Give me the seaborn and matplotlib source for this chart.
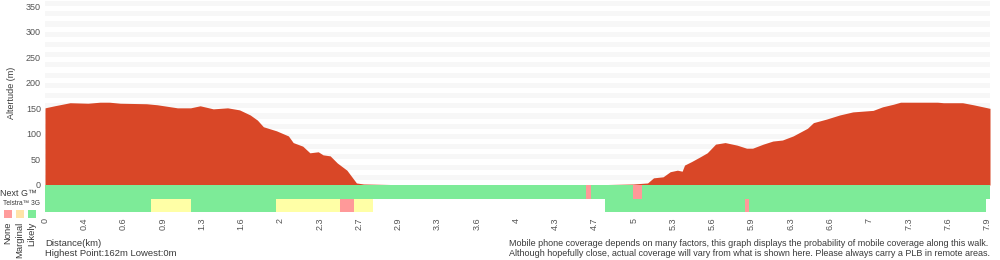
import numpy as np
import pandas as pd
import matplotlib
matplotlib.use("Agg")
import matplotlib.pyplot as plt
import seaborn as sns

# ---------------- data ----------------
distance_km = [0.00, 0.08, 0.21, 0.36, 0.46, 0.54, 0.63, 0.85, 0.94, 1.11, 1.22, 1.30,
               1.41, 1.53, 1.63, 1.72, 1.78, 1.83, 1.94, 2.04, 2.08, 2.16, 2.22, 2.29,
               2.33, 2.39, 2.45, 2.53, 2.61, 2.67, 2.89, 2.93, 3.50, 4.20, 4.65, 4.72,
               4.93, 5.05, 5.10, 5.18, 5.24, 5.30, 5.34, 5.36, 5.42, 5.49, 5.55, 5.62,
               5.70, 5.80, 5.88, 5.93, 6.02, 6.10, 6.18, 6.27, 6.39, 6.44, 6.55, 6.66,
               6.77, 6.94, 7.02, 7.11, 7.17, 7.36, 7.42, 7.48, 7.53, 7.69, 7.78, 7.92]
altitude_m = [151, 155, 161, 160, 162, 162, 160, 159, 157, 151, 151, 155,
              149, 151, 147, 137, 127, 114, 106, 96, 83, 76, 63, 65,
              59, 57, 43, 29, 4, 2, 1, 0, 0, 0, 0, 1,
              2, 4, 14, 16, 26, 29, 27, 39, 46, 55, 63, 80,
              83, 78, 72, 72, 80, 86, 88, 96, 111, 122, 129, 137,
              143, 146, 153, 158, 162, 162, 162, 162, 161, 161, 157, 150]

nextg_start = [0.00, 4.53, 4.58, 4.93, 5.00]
nextg_end = [4.53, 4.58, 4.93, 5.00, 7.92]
nextg_level = ["Likely", "None", "Likely", "None", "Likely"]

g3_start = [0.00, 0.89, 1.22, 1.94, 2.47, 2.59, 4.69, 5.87, 5.90]
g3_end = [0.89, 1.22, 1.94, 2.47, 2.59, 2.75, 5.87, 5.90, 7.89]
g3_level = ["Likely", "Marginal", "Likely", "Marginal", "None", "Marginal",
            "Likely", "None", "Likely"]

tick_labels = ["0", "0.4", "0.6", "0.9", "1.3", "1.6", "2", "2.3", "2.7", "2.9", "3.3",
               "3.6", "4", "4.3", "4.7", "5", "5.3", "5.6", "5.9", "6.3", "6.6", "7",
               "7.3", "7.6", "7.9"]
ytick_values = [0, 50, 100, 150, 200, 250, 300, 350]

# ---------------- style ----------------
sns.set_theme(style="white")
plt.rcParams["font.family"] = ["Liberation Sans", "DejaVu Sans"]
TXT = "#3a3a3a"
FILL = "#d94727"
LEVEL_COLORS = {"None": "#ff9999", "Marginal": "#ffffa6", "Likely": "#7deb98"}
LEGEND_COLORS = {"None": "#ff9c9c", "Marginal": "#ffe3a8", "Likely": "#7deb98"}

fig = plt.figure(figsize=(10, 2.6), dpi=100)
W, H = 1000, 260
x0, x1 = 45, 990
XMAX = 7.92

def box(left, top, right, bottom):
    return [left / W, 1 - bottom / H, (right - left) / W, (bottom - top) / H]

# ---------------- altitude axes ----------------
ax = fig.add_axes(box(x0, 0, x1, 185))
for k in range(18):
    ax.axhspan(10 + 20 * k, 20 + 20 * k, color="#f7f7f7", lw=0, zorder=0)
prof = pd.DataFrame({"d": distance_km, "alt": altitude_m})
sns.lineplot(data=prof, x="d", y="alt", ax=ax, color=FILL, lw=0, zorder=3)
ax.fill_between(prof["d"], 0, prof["alt"], color=FILL, lw=0, zorder=2)
ax.set_xlim(0, XMAX)
ax.set_ylim(0, 362)
ax.set_xticks([])
ax.set_yticks(ytick_values)
ax.set_yticklabels([str(v) for v in ytick_values])
ax.tick_params(axis="y", length=0, pad=3, labelsize=6.5, labelcolor="#555555")
ax.set_xlabel("")
ax.set_ylabel("Altertude (m)", fontsize=6.5, color=TXT, labelpad=7)
for s in ax.spines.values():
    s.set_visible(False)

# ---------------- coverage axes ----------------
cax = fig.add_axes(box(x0, 185, x1, 212))
for row, (st, en, lv) in enumerate([(nextg_start, nextg_end, nextg_level),
                                    (g3_start, g3_end, g3_level)]):
    for a, b, l in zip(st, en, lv):
        cax.barh(row, b - a, left=a, height=1.0, color=LEVEL_COLORS[l], lw=0)
cax.set_xlim(0, XMAX)
cax.set_ylim(1.5, -0.5)
cax.set_yticks([])
step = 7.896 / (len(tick_labels) - 1)
cax.set_xticks(np.arange(len(tick_labels)) * step)
cax.set_xticklabels(tick_labels, rotation=90)
cax.tick_params(axis="x", length=0, pad=4, labelsize=6.5, labelcolor="#555555")
for s in cax.spines.values():
    s.set_visible(False)
cax.set_facecolor("white")

# ---------------- left legend ----------------
fig.text(0 / W, 1 - 193 / H, "Next G\u2122", fontsize=6.4, color=TXT, ha="left", va="center")
fig.text(3 / W, 1 - 203.5 / H, "Telstra\u2122 3G", fontsize=4.8, color=TXT, ha="left", va="center")
for i, lv in enumerate(["None", "Marginal", "Likely"]):
    lx = 4 + 12 * i
    fig.patches.append(plt.Rectangle((lx / W, 1 - 218 / H), 8 / W, 8 / H,
                                     transform=fig.transFigure, color=LEGEND_COLORS[lv],
                                     lw=0))
    fig.text((lx + 4) / W, 1 - 222 / H, lv, rotation=90, fontsize=6.8, color=TXT,
             ha="center", va="top")

# ---------------- footer ----------------
fig.text(45 / W, 1 - 243 / H, "Distance(km)", fontsize=6.8, color=TXT, ha="left", va="center")
fig.text(45 / W, 1 - 253 / H, "Highest Point:162m Lowest:0m", fontsize=6.8, color=TXT,
         ha="left", va="center")
fig.text(509 / W, 1 - 243 / H,
         "Mobile phone coverage depends on many factors, this graph displays the probability of mobile coverage along this walk.",
         fontsize=6.45, color=TXT, ha="left", va="center")
fig.text(509 / W, 1 - 253 / H,
         "Although hopefully close, actual coverage will vary from what is shown here. Please always carry a PLB in remote areas.",
         fontsize=6.45, color=TXT, ha="left", va="center")

fig.savefig("out.png", dpi=100, facecolor="white")
